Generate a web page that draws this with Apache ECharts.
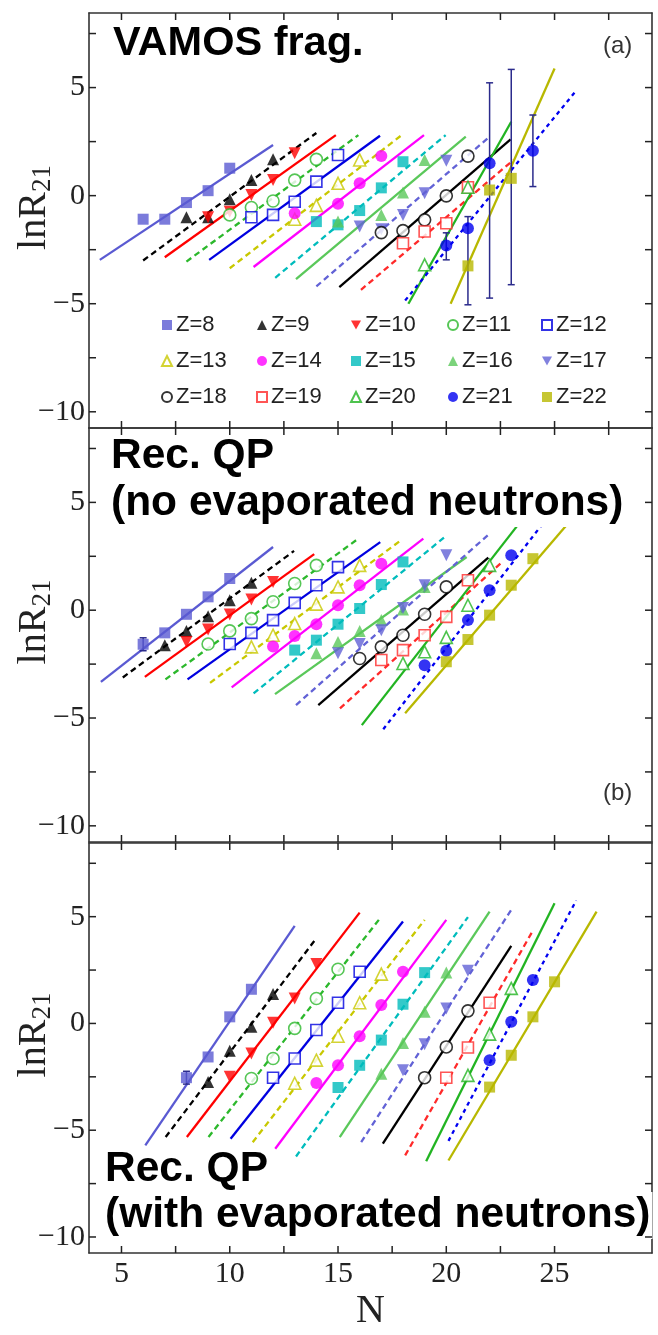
<!DOCTYPE html>
<html>
<head>
<meta charset="utf-8">
<script src="https://cdn.jsdelivr.net/npm/echarts@6/dist/echarts.min.js"></script>
<style>
  html, body { margin: 0; padding: 0; background: #fff; }
  #chart { width: 658px; height: 1335px; }
</style>
</head>
<body>
<div id="chart"></div>
<script>
// Proton numbers of the fragments
const zList = [8, 9, 10, 11, 12, 13, 14, 15, 16, 17, 18, 19, 20, 21, 22];

// Axis ticks
const xTicks = [5, 7.5, 10, 12.5, 15, 17.5, 20, 22.5, 25, 27.5];
const xLabels = [5, 10, 15, 20, 25];
const yTicks = [-10, -7.5, -5, -2.5, 0, 2.5, 5, 7.5];
const yLabels = [-10, -5, 0, 5];

// (a) VAMOS fragments: neutron numbers, lnR21 values, fit segments [N0, y0, N1, y1]
const nA = [
  [6, 7, 8, 9, 10], [8, 9, 10, 11, 12], [9, 10, 11, 12, 13], [10, 11, 12, 13, 14], [11, 12, 13, 14, 15],
  [13, 14, 15, 16], [13, 15, 16, 17], [14, 15, 16, 17, 18], [15, 17, 18, 19], [16, 17, 18, 19, 20],
  [17, 18, 19, 20, 21], [18, 19, 20, 21], [19, 21], [20, 21, 22, 24], [21, 22, 23]
];
const yA = [
  [-1.09, -1.09, -0.32, 0.23, 1.27], [-1.0, -1.0, -0.17, 0.72, 1.68], [-1.0, -0.74, 0.03, 0.72, 1.96],
  [-0.89, -0.55, -0.25, 0.72, 1.68], [-1.0, -0.89, -0.28, 0.65, 1.88], [-1.09, -0.45, 0.57, 1.65],
  [-0.81, -0.38, 0.57, 1.83], [-1.2, -1.35, -0.69, 0.36, 1.57], [-1.2, -0.89, 0.14, 1.65],
  [-1.43, -1.55, -0.89, 0.11, 1.62], [-1.71, -1.62, -1.12, -0.01, 1.83], [-2.2, -1.66, -1.28, 0.39],
  [-3.2, 0.39], [-2.31, -1.51, 1.5, 2.08], [-3.25, 0.26, 0.8]
];
const fitA = [
  [4, -2.97, 12, 2.34], [6, -3.0, 14, 2.9], [7, -2.85, 14.9, 2.8], [8, -3.05, 15.94, 2.8], [9.05, -2.97, 16.94, 2.77],
  [10, -3.36, 17.94, 2.8], [11.1, -3.3, 18.97, 2.8], [12.1, -3.8, 19.97, 2.8], [13.06, -3.86, 20.9, 2.73],
  [14, -4.2, 22, 2.73], [15.06, -4.23, 22.97, 2.6], [16.06, -4.36, 23.1, 1.65], [18.25, -5.0, 23, 3.42],
  [18.1, -4.85, 25.95, 4.8], [20.2, -5.0, 25, 5.88]
];
const errA = [[20, -1.72, -2.97], [21, -0.97, -5.05], [22, 5.22, -4.74], [23, 5.84, -4.12], [24, 3.73, 0.42]];

// (b) reconstructed quasi-projectile, no evaporated neutrons
const nB = [
  [6, 7, 8, 9, 10], [7, 8, 9, 10, 11], [8, 9, 10, 11, 12], [9, 10, 11, 12, 13, 14], [10, 11, 12, 13, 14, 15],
  [11, 12, 13, 14, 15, 16], [12, 13, 14, 15, 16, 17], [13, 14, 15, 16, 17, 18], [14, 15, 16, 17, 18, 19],
  [15, 16, 17, 18, 19, 20], [16, 17, 18, 19, 20], [17, 18, 19, 20, 21], [18, 19, 20, 21, 22],
  [19, 20, 21, 22, 23], [20, 21, 22, 23, 24]
];
const yB = [
  [-1.58, -1.05, -0.19, 0.62, 1.47], [-1.63, -0.96, -0.28, 0.46, 1.27], [-1.47, -0.9, -0.2, 0.5, 1.31],
  [-1.57, -0.96, -0.39, 0.39, 1.24, 2.08], [-1.57, -1.05, -0.46, 0.34, 1.16, 2.0], [-1.7, -1.16, -0.62, 0.28, 1.08, 2.08],
  [-1.68, -1.2, -0.65, 0.23, 1.16, 2.16], [-1.85, -1.39, -0.65, 0.08, 1.19, 2.24], [-2.0, -1.47, -0.96, -0.45, 0.03, 1.08],
  [-2.0, -1.57, -0.93, 0.1, 1.16, 2.55], [-2.24, -1.7, -1.16, -0.19, 1.08], [-2.31, -1.85, -1.16, -0.31, 1.39],
  [-2.47, -1.93, -1.26, 0.23, 2.08], [-2.55, -1.88, -0.46, 0.93, 2.55], [-2.39, -1.36, -0.23, 1.16, 2.39]
];
const fitB = [
  [4.05, -3.32, 12, 2.93], [5.06, -3.12, 12.97, 2.75], [6.08, -3.09, 13.9, 2.6], [7.03, -3.21, 15.94, 3.32],
  [8.05, -3.21, 16.95, 3.16], [9.09, -3.37, 17.94, 3.27], [10.09, -3.58, 18.94, 3.32], [11.1, -3.86, 19.97, 3.43],
  [12.09, -3.89, 20.94, 2.47], [13.06, -4.4, 22, 3.55], [14.09, -4.4, 21.94, 2.44], [15.09, -4.55, 22.5, 2.16],
  [16.1, -5.33, 23.5, 4.2], [17.09, -5.52, 24.6, 4.2], [18.1, -4.78, 25.6, 4.0]
];
const errB = [[6, -1.28, -1.88]];

// (c) reconstructed quasi-projectile, with evaporated neutrons
const nC = [
  [8, 9, 10, 11], [9, 10, 11, 12], [10, 11, 12, 13, 14], [11, 12, 13, 14, 15], [12, 13, 14, 15, 16],
  [13, 14, 15, 16, 17], [14, 15, 16, 17, 18], [15, 16, 17, 18, 19], [17, 18, 19, 20], [18, 19, 20, 21],
  [19, 20, 21], [20, 21, 22], [21, 22, 23], [22, 23, 24], [22, 23, 24, 25]
];
const yC = [
  [-2.54, -1.57, 0.31, 1.6], [-2.74, -1.28, -0.16, 1.38], [-2.5, -1.41, 0.03, 1.17, 2.78],
  [-2.58, -1.64, -0.23, 1.17, 2.54], [-2.54, -1.64, -0.31, 0.97, 2.42], [-2.8, -1.72, -0.6, 0.97, 2.31],
  [-2.79, -1.96, -0.6, 0.86, 2.42], [-3.0, -1.96, -0.78, 0.9, 2.38], [-2.35, -0.91, 0.55, 2.38],
  [-2.19, -0.97, 0.7, 2.47], [-2.54, -1.1, 0.59], [-2.54, -1.13, 0.97], [-2.43, -0.5, 1.64],
  [-1.72, 0.08, 2.03], [-2.98, -1.49, 0.31, 1.95]
];
const fitC = [
  [6.1, -5.71, 13, 4.57], [7.04, -5.32, 14, 3.99], [8.02, -5.32, 16, 5.19], [9.02, -5.32, 17, 5.0],
  [10.04, -5.4, 18, 4.77], [11.06, -5.56, 19, 4.85], [12.1, -5.87, 20, 4.85], [13.06, -6.23, 21, 4.98],
  [15.08, -5.32, 22, 5.24], [16.07, -5.56, 23, 5.32], [17.07, -5.63, 23, 3.63], [18.1, -6.18, 24, 4.35],
  [19.07, -6.45, 25, 5.63], [20.1, -5.5, 26, 5.76], [20.1, -6.42, 26.94, 5.24]
];
const errC = [[8, -2.24, -2.84]];

// Marker and line styles per Z
const zColor = ['#5a5ad2', '#000000', '#ff0000', '#2cb82c', '#0000e0', '#c8c800', '#ff00ff', '#00bcbc',
                '#5ac85a', '#6262d6', '#000000', '#ff2a2a', '#22b422', '#0000f0', '#b8b800'];
const downTriangle = 'path://M0,0L10,0L5,9Z';
const zSymbol = ['rect', 'triangle', downTriangle, 'circle', 'rect', 'triangle', 'circle', 'rect',
                 'triangle', downTriangle, 'circle', 'rect', 'triangle', 'circle', 'rect'];
const zHollow = [false, false, false, true, true, true, false, false, false, false, true, true, true, false, false];
const zDashed = [false, true, false, true, false, true, false, true, false, true, false, true, false, true, false];

const errColor = '#2b2b8c';
const frameColor = '#333';
const serif = 'Liberation Serif';
const sans = 'Liberation Sans';

const panelData = [
  { n: nA, y: yA, fit: fitA, err: errA },
  { n: nB, y: yB, fit: fitB, err: errB },
  { n: nC, y: yC, fit: fitC, err: errC }
];
const gridTops = [13, 428, 843];
const gridHeights = [415, 414, 410];

const grids = [], xAxes = [], yAxes = [], series = [];

const minus = v => (v < 0 ? '\u2212' + (-v) : String(v));
const frameLine = () => ({ show: true, onZero: false, lineStyle: { color: frameColor, width: 1.6 } });
const tickLen = 7;
const tickStroke = { stroke: '#222', lineWidth: 1.5 };

panelData.forEach((p, k) => {
  grids.push({
    left: 89, right: 6, top: gridTops[k], height: gridHeights[k],
    outerBoundsMode: 'none', containLabel: false, show: false
  });
  const isLast = k === panelData.length - 1;
  // bottom and top x axes (the top one only closes the frame)
  xAxes.push({
    gridIndex: k, type: 'value', min: 3.5, max: 29.5, position: 'bottom',
    axisLine: frameLine(), axisTick: { show: false },
    axisLabel: { show: isLast, customValues: xLabels, fontFamily: serif, fontSize: 30, color: '#222', margin: 6 },
    splitLine: { show: false },
    name: isLast ? 'N' : '', nameLocation: 'middle', nameGap: 38, nameMoveOverlap: false,
    nameTextStyle: { fontFamily: serif, fontSize: 40, color: '#222' }
  });
  xAxes.push({
    gridIndex: k, type: 'value', min: 3.5, max: 29.5, position: 'top',
    axisLine: frameLine(), axisTick: { show: false },
    axisLabel: { show: false }, splitLine: { show: false }
  });
  // left and right y axes
  yAxes.push({
    gridIndex: k, type: 'value', min: -10.75, max: 8.45, position: 'left',
    axisLine: frameLine(), axisTick: { show: false },
    axisLabel: { customValues: yLabels, formatter: minus, fontFamily: serif, fontSize: 30, color: '#222', margin: 4 },
    splitLine: { show: false },
    name: '{m|lnR}{s|21}', nameLocation: 'middle', nameGap: 33, nameRotate: 90, nameMoveOverlap: false,
    nameTextStyle: {
      padding: [0, 0, 0, 26],
      rich: {
        m: { fontFamily: serif, fontSize: 40, color: '#222' },
        s: { fontFamily: serif, fontSize: 27, color: '#222', padding: [16, 0, 0, 0] }
      }
    }
  });
  yAxes.push({
    gridIndex: k, type: 'value', min: -10.75, max: 8.45, position: 'right',
    axisLine: frameLine(), axisTick: { show: false },
    axisLabel: { show: false }, splitLine: { show: false }
  });

  const xi = 2 * k, yi = 2 * k;

  // inward tick marks on all four sides, placed through the axis scales
  series.push({
    name: 'xticks-' + k, type: 'custom', xAxisIndex: xi, yAxisIndex: yi, z: 6, silent: true,
    data: xTicks.map(v => [v, 0]), encode: { x: 0, y: 1 },
    renderItem: (params, api) => {
      const cs = params.coordSys;
      const x = api.coord([api.value(0), 0])[0];
      const top = cs.y, bottom = cs.y + cs.height;
      return {
        type: 'group', children: [
          { type: 'line', shape: { x1: x, y1: bottom, x2: x, y2: bottom - tickLen }, style: tickStroke },
          { type: 'line', shape: { x1: x, y1: top, x2: x, y2: top + tickLen }, style: tickStroke }
        ]
      };
    }
  });
  series.push({
    name: 'yticks-' + k, type: 'custom', xAxisIndex: xi, yAxisIndex: yi, z: 6, silent: true,
    data: yTicks.map(v => [10, v]), encode: { x: 0, y: 1 },
    renderItem: (params, api) => {
      const cs = params.coordSys;
      const y = api.coord([10, api.value(1)])[1];
      const left = cs.x, right = cs.x + cs.width;
      return {
        type: 'group', children: [
          { type: 'line', shape: { x1: left, y1: y, x2: left + tickLen, y2: y }, style: tickStroke },
          { type: 'line', shape: { x1: right, y1: y, x2: right - tickLen, y2: y }, style: tickStroke }
        ]
      };
    }
  });

  // fit lines
  p.fit.forEach((f, i) => {
    series.push({
      name: 'fit-' + k + '-' + zList[i], type: 'line', xAxisIndex: xi, yAxisIndex: yi,
      data: [[f[0], f[1]], [f[2], f[3]]], showSymbol: false, silent: true, z: 2,
      lineStyle: { color: zColor[i], width: 2.3, type: zDashed[i] ? (zList[i] === 21 ? [4, 4] : [6, 4]) : 'solid' }
    });
  });

  // error bars
  series.push({
    name: 'err-' + k, type: 'custom', xAxisIndex: xi, yAxisIndex: yi, z: 3, silent: true,
    data: p.err, encode: { x: 0, y: [1, 2] },
    renderItem: (params, api) => {
      const hi = api.coord([api.value(0), api.value(1)]);
      const lo = api.coord([api.value(0), api.value(2)]);
      const w = 3.5;
      const st = { stroke: errColor, lineWidth: 1.5 };
      return {
        type: 'group', children: [
          { type: 'line', shape: { x1: hi[0], y1: hi[1], x2: lo[0], y2: lo[1] }, style: st },
          { type: 'line', shape: { x1: hi[0] - w, y1: hi[1], x2: hi[0] + w, y2: hi[1] }, style: st },
          { type: 'line', shape: { x1: lo[0] - w, y1: lo[1], x2: lo[0] + w, y2: lo[1] }, style: st }
        ]
      };
    }
  });

  // data points
  p.n.forEach((ns, i) => {
    const c = zColor[i];
    series.push({
      name: 'Z=' + zList[i], type: 'scatter', xAxisIndex: xi, yAxisIndex: yi, z: 4,
      data: ns.map((nv, j) => [nv, p.y[i][j]]),
      symbol: zSymbol[i],
      symbolSize: zSymbol[i] === 'rect' ? 11 : 12,
      itemStyle: zHollow[i]
        ? { color: '#ffffff', borderColor: c, borderWidth: 1.6 }
        : { color: c, borderColor: c, borderWidth: 0 }
    });
  });
});

// legend in panel (a): five columns of three entries
const legendCols = [[8, 13, 18], [9, 14, 19], [10, 15, 20], [11, 16, 21], [12, 17, 22]];
const legendLeft = [161, 256, 350, 447, 541];
const legends = legendCols.map((col, i) => ({
  orient: 'vertical', left: legendLeft[i], top: 314, padding: 0,
  data: col.map(z => 'Z=' + z), selectedMode: false,
  itemWidth: 10, itemHeight: 10, itemGap: 14,
  textStyle: { fontFamily: sans, fontSize: 22, color: '#222', lineHeight: 22, padding: [0, 0, 0, -1] }
}));

const titleBold = { fontFamily: sans, fontWeight: 'bold', color: '#000' };
const titleTag = { fontFamily: sans, fontWeight: 'normal', fontSize: 24, color: '#333' };
const titles = [
  { text: 'VAMOS frag.', left: 113, top: 23, padding: 0, textStyle: Object.assign({ fontSize: 41.5, lineHeight: 42 }, titleBold) },
  { text: '(a)', left: 603, top: 34, padding: 0, textStyle: titleTag },
  { text: 'Rec. QP\n(no evaporated neutrons)', left: 109, top: 433, padding: [0, 2, 0, 2], backgroundColor: '#fff',
    textStyle: Object.assign({ fontSize: 42.5, lineHeight: 47 }, titleBold) },
  { text: '(b)', left: 603, top: 781, padding: 0, textStyle: titleTag },
  { text: 'Rec. QP', left: 103, top: 1146, padding: [0, 2, 0, 2], backgroundColor: '#fff',
    textStyle: Object.assign({ fontSize: 42.5, lineHeight: 47 }, titleBold) },
  { text: '(with evaporated neutrons)', left: 103, top: 1192, padding: [0, 2, 0, 2], backgroundColor: '#fff',
    textStyle: Object.assign({ fontSize: 42.5, lineHeight: 47 }, titleBold) }
];

const chart = echarts.init(document.getElementById('chart'), null, { renderer: 'canvas' });
chart.setOption({
  animation: false,
  backgroundColor: '#fff',
  title: titles,
  legend: legends,
  grid: grids,
  xAxis: xAxes,
  yAxis: yAxes,
  series: series
});
</script>
</body>
</html>
